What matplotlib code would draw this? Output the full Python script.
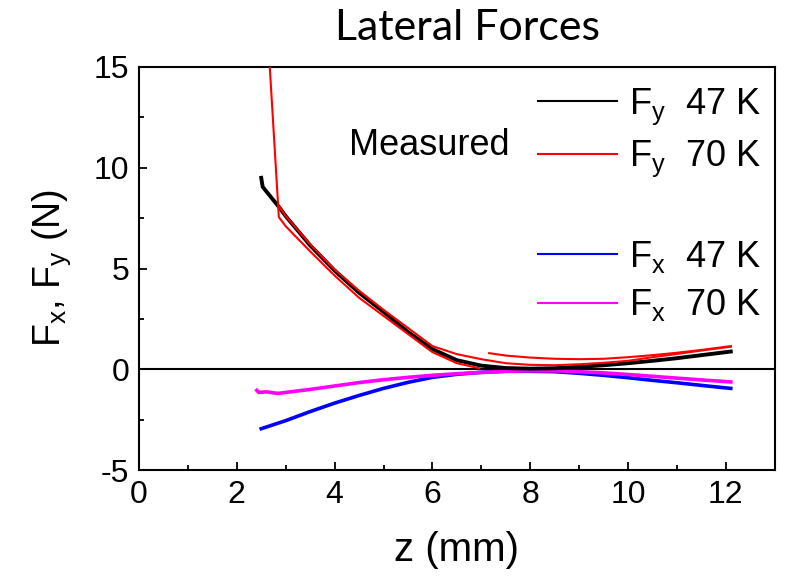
"""plot.py - lateral forces vs. z, measured at 47 K and 70 K."""

import matplotlib
matplotlib.use("Agg")
from matplotlib import pyplot as plt
from matplotlib.lines import Line2D
from matplotlib.ticker import MultipleLocator

plt.rcParams["font.family"] = ["Liberation Sans", "DejaVu Sans"]
plt.rcParams["mathtext.fontset"] = "custom"
plt.rcParams["mathtext.rm"] = "Liberation Sans"
plt.rcParams["mathtext.it"] = "Liberation Sans:italic"
plt.rcParams["mathtext.default"] = "regular"
plt.rcParams["axes.unicode_minus"] = False

# Fy at 47 K
fy47_z = [2.50, 2.53, 2.88, 3.0, 3.5, 4.0, 4.5, 5.0, 5.5, 6.0, 6.5, 7.0, 7.5,
          8.0, 8.5, 9.0, 9.5, 10.0, 10.5, 11.0, 11.5, 12.1]
fy47_f = [9.5, 9.05, 8.0, 7.6, 6.15, 4.9, 3.8, 2.85, 1.85, 1.0, 0.45, 0.18, 0.06,
          0.03, 0.05, 0.12, 0.2, 0.3, 0.42, 0.55, 0.7, 0.88]

# Fy at 70 K, three sweeps
fy70a_z = [2.60, 2.86, 3.0, 3.5, 4.0, 4.5, 5.0, 5.5, 6.0, 6.5, 6.96]
fy70a_f = [18.0, 7.55, 7.1, 5.85, 4.65, 3.55, 2.65, 1.75, 0.85, 0.3, 0.05]
fy70b_z = [2.88, 3.0, 3.5, 4.0, 4.5, 5.0, 5.5, 6.0, 6.5, 7.0, 7.5, 8.0, 8.5,
           9.0, 9.5, 10.0, 10.5, 11.0, 11.5, 12.1]
fy70b_f = [8.05, 7.6, 6.2, 4.95, 3.9, 2.95, 2.05, 1.15, 0.75, 0.5, 0.3, 0.22, 0.2,
           0.25, 0.32, 0.42, 0.6, 0.76, 0.93, 1.12]
fy70c_z = [7.16, 7.5, 8.0, 8.5, 9.0, 9.5, 10.0, 10.5, 11.0, 11.5, 12.1]
fy70c_f = [0.8, 0.68, 0.58, 0.52, 0.5, 0.52, 0.6, 0.7, 0.82, 0.96, 1.15]

# Fx at 47 K
fx47_z = [2.5, 3.0, 3.5, 4.0, 4.5, 5.0, 5.5, 6.0, 6.5, 7.0, 7.5, 8.0, 8.5, 9.0,
          9.5, 10.0, 10.5, 11.0, 11.5, 12.1]
fx47_f = [-2.95, -2.55, -2.1, -1.68, -1.3, -0.95, -0.65, -0.4, -0.25, -0.15, -0.1,
          -0.1, -0.12, -0.2, -0.3, -0.42, -0.55, -0.67, -0.8, -0.95]

# Fx at 70 K
fx70_z = [2.41, 2.45, 2.6, 2.84, 3.0, 3.5, 4.0, 4.5, 5.0, 5.5, 6.0, 6.5, 7.0, 7.5,
          8.0, 8.5, 9.0, 9.5, 10.0, 10.5, 11.0, 11.5, 12.1]
fx70_f = [-1.05, -1.15, -1.12, -1.2, -1.15, -1.0, -0.83, -0.66, -0.52, -0.4, -0.3,
          -0.22, -0.16, -0.1, -0.08, -0.08, -0.12, -0.18, -0.26, -0.35, -0.44,
          -0.53, -0.63]

legend_labels = ["F$_y$  47 K", "F$_y$  70 K", " ", "F$_x$  47 K", "F$_x$  70 K"]
legend_colors = ["black", "#ff0000", "none", "#0000ff", "#ff00ff"]

# Plotting
# --------

fig = plt.figure(figsize=(7.85, 5.77), dpi=100)
ax = fig.add_axes([0.177, 0.1854, 0.81, 0.6985])

ax.axhline(0, color="black", lw=1.5, zorder=1)

ax.plot(fx47_z, fx47_f, color="#0000ff", lw=2.6, zorder=2)
ax.plot(fx70_z, fx70_f, color="#ff00ff", lw=2.6, zorder=3)
ax.plot(fy47_z, fy47_f, color="black", lw=2.8, zorder=4)
for zz, ff in [(fy70a_z, fy70a_f), (fy70b_z, fy70b_f), (fy70c_z, fy70c_f)]:
    ax.plot(zz, ff, color="#ff0000", lw=1.5, zorder=5)

ax.text(4.3, 11.1, "Measured", fontsize=26, va="center", ha="left")

# Stylizing
# ---------

ax.set_xlim(0, 13)
ax.set_ylim(-5, 15)
ax.xaxis.set_major_locator(MultipleLocator(2))
ax.xaxis.set_minor_locator(MultipleLocator(1))
ax.yaxis.set_major_locator(MultipleLocator(5))
ax.yaxis.set_minor_locator(MultipleLocator(2.5))
ax.tick_params(which="both", direction="in", labelsize=23, width=1.3,
               top=False, right=False, pad=7)
ax.tick_params(which="major", length=6)
ax.tick_params(which="minor", length=3.5)
for spine in ax.spines.values():
    spine.set_linewidth(1.5)

ax.set_xlabel("z (mm)", fontsize=29, labelpad=15)
ax.set_ylabel("F$_x$, F$_y$ (N)", fontsize=27, labelpad=15)

handles = [Line2D([], [], color=c, lw=1.5) for c in legend_colors]
ax.legend(handles, legend_labels, loc="upper left", bbox_to_anchor=(0.627, 0.952),
          frameon=False, fontsize=26, handlelength=2.2, handletextpad=0.33,
          labelspacing=0.34, borderpad=0, borderaxespad=0)

fig.text(0.596, 0.951, "Lateral Forces", fontsize=31, family=["Lato", "DejaVu Sans"],
         ha="center", va="center")

fig.savefig("out.png", dpi=100)
